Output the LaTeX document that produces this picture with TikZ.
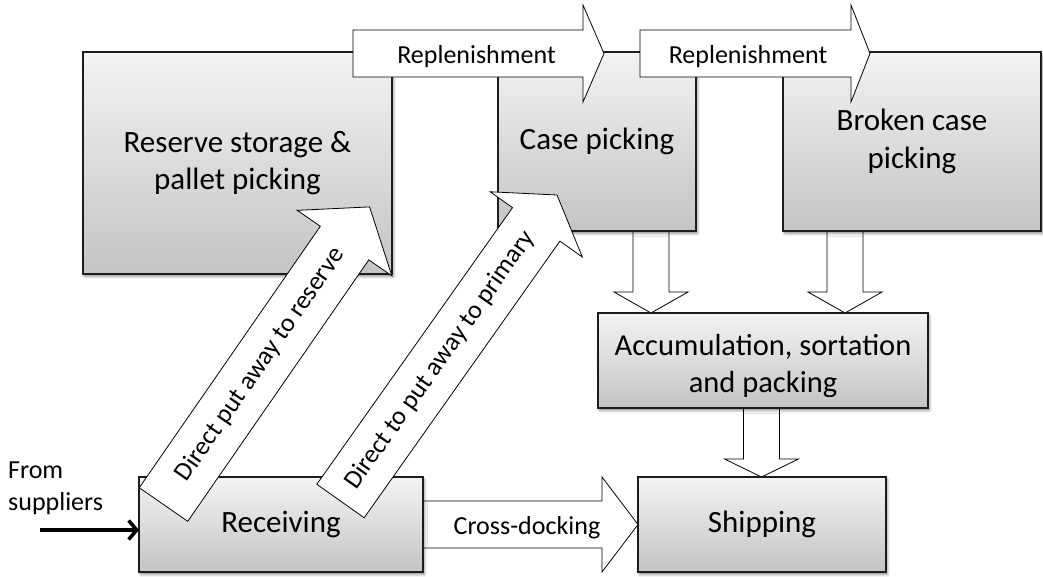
\documentclass[tikz,border=0pt]{standalone}
\usepackage{fontspec}
\setmainfont{Carlito}
\usetikzlibrary{calc,arrows.meta,shadows.blur,backgrounds}
\definecolor{boxtop}{RGB}{243,243,243}
\definecolor{boxbottom}{RGB}{196,196,196}
\definecolor{boxline}{RGB}{28,28,28}

% block arrow: start, tip, shaft half-width, head half-width, head length
\newcommand\blockarrow[5]{%
  \coordinate (baneck) at ($(#2)!#5!(#1)$);
  \draw[flow] ($(#1)!#3!90:(#2)$) -- ($(baneck)!#3!90:(#2)$)
    -- ($(baneck)!#4!90:(#2)$) -- (#2) -- ($(baneck)!#4!-90:(#2)$)
    -- ($(baneck)!#3!-90:(#2)$) -- ($(#1)!#3!-90:(#2)$) -- cycle;}

\begin{document}
\begin{tikzpicture}[x=1pt,y=-1pt,
  stage/.style={rectangle, draw=boxline, line width=1.6pt,
    top color=boxtop, bottom color=boxbottom,
    inner sep=0pt, outer sep=0pt, align=center,
    font=\fontsize{31}{37.5}\selectfont,
    blur shadow={shadow xshift=1.5pt, shadow yshift=-2.5pt,
      shadow blur radius=2.5pt, shadow opacity=45}},
  boxtext/.style={inner sep=0pt, align=center, font=\fontsize{30.5}{37.5}\selectfont},
  flow/.style={draw=black, line width=0.8pt, fill=white, line join=miter},
  flowlabel/.style={inner sep=0pt, font=\fontsize{26}{32}\selectfont},
  supply/.style={line width=3.6pt, -{Straight Barb[length=8pt,width=19pt]}},
]
\useasboundingbox (0,0) rectangle (1043,576);

% stages
\node[stage, minimum width=309pt, minimum height=222pt] (reserve) at (237.5,163) {Reserve storage \&\\pallet picking};
\node[stage, minimum width=198pt, minimum height=179pt] (case) at (597,141.5) {Case picking};
\node[stage, minimum width=258pt, minimum height=179pt] (broken) at (912,141.5) {Broken case\\picking};
\node[stage, minimum width=330pt, minimum height=95pt] (accum) at (763,360.5) {};
\node[stage, minimum width=248pt, minimum height=95pt] (shipping) at (762,524.5) {Shipping};
\node[stage, minimum width=284pt, minimum height=95pt] (receiving) at (281,524.5) {Receiving};

\begin{scope}
  \clip (598,300) rectangle (928,396);
  \node[boxtext] (accumtext) at (763,366) {Accumulation, sortation\\and packing};
\end{scope}

% flows that start below a stage
\begin{scope}[on background layer]
  \coordinate (d1s) at ($(case.south)+(54,0)$);
  \coordinate (d2s) at ($(broken.south)+(-67,0)$);
  \coordinate (d3s) at ($(accum.south)+(-1.5,0)$);
  \coordinate (d1e) at (d1s |- accum.north);
  \coordinate (d2e) at (d2s |- accum.north);
  \coordinate (d3e) at (d3s |- shipping.north);
  \blockarrow{d1s}{d1e}{18pt}{37pt}{21pt}
  \blockarrow{d2s}{d2e}{18pt}{37pt}{21pt}
  \blockarrow{d3s}{d3e}{18pt}{37pt}{18pt}
  \blockarrow{receiving.east}{shipping.west}{23.5pt}{47.5pt}{36pt}
\end{scope}

\begin{scope}
  \clip (423,480) rectangle (601,538);
  \node[flowlabel, anchor=base] (xdock) at (527,534) {Cross-docking};
\end{scope}

% replenishment
\coordinate (rep1s) at (353,53.5);
\coordinate (rep1e) at (604,53.5);
\coordinate (rep2s) at (640,53.5);
\coordinate (rep2e) at (870,53.5);
\blockarrow{rep1s}{rep1e}{23.5pt}{48.5pt}{21pt}
\blockarrow{rep2s}{rep2e}{23.5pt}{48.5pt}{19pt}
\node[flowlabel, anchor=base] (rep1) at (476.5,63) {Replenishment};
\node[flowlabel, anchor=base] (rep2) at (748,63) {Replenishment};

% put away
\coordinate (resin) at (163.5,504.5);
\coordinate (restip) at (369.6,206.9);
\coordinate (primin) at (340.5,501);
\coordinate (primtip) at (557,195);
\blockarrow{resin}{restip}{29.5pt}{57.5pt}{44pt}
\blockarrow{primin}{primtip}{29pt}{56.5pt}{36pt}
\path (resin) -- (restip) node[flowlabel, pos=0.47, sloped] (putres) {Direct put away to reserve};
\path (primin) -- (primtip) node[flowlabel, pos=0.46, sloped] (putprim) {Direct to put away to primary};

% inbound
\node[flowlabel, align=left, anchor=west] (suppliers) at (8,488) {From\\suppliers};
\coordinate (supin) at (40,530);
\draw[supply] (supin) -- (supin -| receiving.west);
\end{tikzpicture}
\end{document}
